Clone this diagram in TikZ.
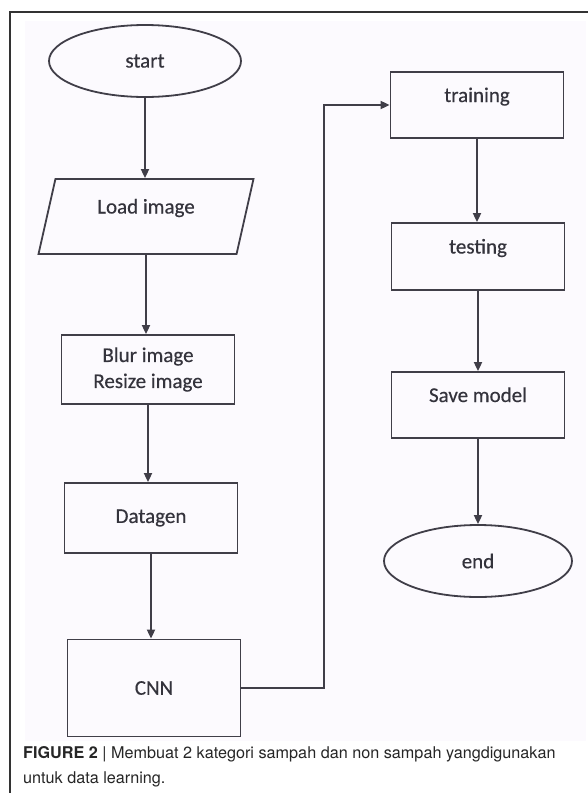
\documentclass[tikz,border=0pt]{standalone}
\usepackage{fontspec}
\setmainfont{Carlito}
\newfontfamily\boxfont{Carlito}[FakeBold=0.4]
\newfontfamily\capfont{TeX Gyre Heros}
\usetikzlibrary{shapes.geometric,arrows.meta}
\definecolor{boxline}{HTML}{403E48}
\definecolor{boxtext}{HTML}{34333C}
\definecolor{paper}{HTML}{FCFAFE}

\begin{document}
\begin{tikzpicture}[x=1pt, y=-1pt]
        \tikzstyle{block}=[rectangle,draw=boxline,line width=1.8pt,text=boxtext,font=\boxfont\fontsize{21}{26}\selectfont,align=center,minimum width=173pt,minimum height=67pt,inner sep=0pt]
        \tikzstyle{terminal}=[ellipse,draw=boxline,line width=1.8pt,text=boxtext,font=\boxfont\fontsize{21}{26}\selectfont,minimum width=192pt,minimum height=72pt,inner sep=0pt]
        \tikzstyle{io}=[trapezium,trapezium left angle=75,trapezium right angle=105,trapezium stretches=true,draw=boxline,line width=1.8pt,text=boxtext,font=\boxfont\fontsize{21}{26}\selectfont,minimum width=215pt,minimum height=75pt,inner sep=0pt]
        \tikzstyle{raised}=[text height=14pt,text depth=20pt]
        \tikzstyle{flow}=[draw=boxline,line width=1.8pt,-{Triangle[length=9pt,width=8pt]}]

        % page, frame and tinted panel
        \useasboundingbox (0,0) rectangle (588,793);
        \fill[paper] (25,21) rectangle (586,741);
        \draw[line width=1.4pt,black!80] (588,12) -- (10,12) -- (10,793);

        % left column
        \node[terminal] (B_start) at (145,61) {start};
        \node[io,raised] (B_load) at (146,216.5) {Load image};
        \node[block,minimum height=69pt] (B_blur) at (148,369.5) {Blur image\\Resize image};
        \node[block,minimum height=70pt] (B_data) at (151,518) {Datagen};
        \node[block,minimum height=97pt] (B_cnn) at (154,688) {CNN};

        % right column
        \node[block,raised,minimum height=66pt] (B_train) at (477,105) {training};
        \node[block,raised] (B_test) at (478,256.5) {testing};
        \node[block,raised,minimum height=66pt] (B_save) at (478,405) {Save model};
        \node[terminal,minimum width=188pt] (B_end) at (478,561) {end};
        \coordinate (K) at (324,400);

        \draw[flow] (B_start) -- (B_start |- B_load.north);
        \draw[flow] (B_load) -- (B_load |- B_blur.north);
        \draw[flow] (B_blur) -- (B_blur |- B_data.north);
        \draw[flow] (B_data) -- (B_data |- B_cnn.north);
        \draw[flow] (B_cnn) -| (K) |- (B_train);
        \draw[flow] (B_train) -- (B_train |- B_test.north);
        \draw[flow] (B_test) -- (B_test |- B_save.north);
        \draw[flow] (B_save) -- (B_save |- B_end.north);

        % caption
        \node[anchor=north west,align=left,inner sep=0pt,text=black!85,font=\capfont\fontsize{16.2}{25}\selectfont] (B_cap) at (23,746) {\textbf{FIGURE 2} | Membuat 2 kategori sampah dan non sampah yangdigunakan\\untuk data learning.};
\end{tikzpicture}
\end{document}
